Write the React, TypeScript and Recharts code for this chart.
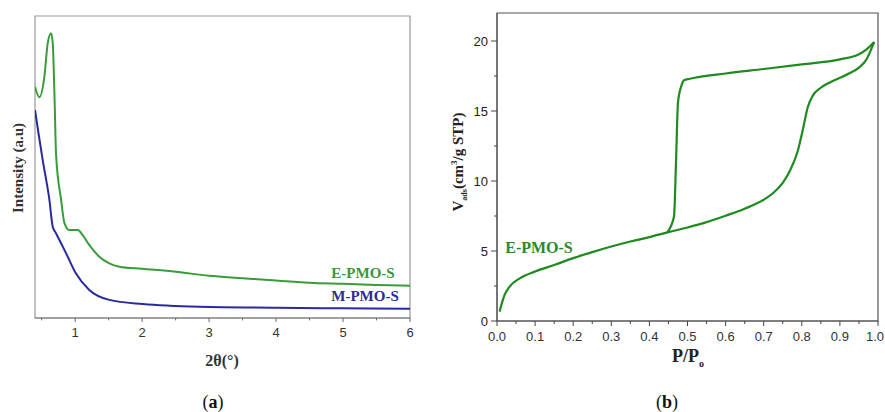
import { LineChart, Line, XAxis, YAxis, ReferenceArea } from 'recharts';

// (a) low-angle XRD, intensity in arbitrary units (0..100 across the frame)
const ePmoTheta = [0.4, 0.466, 0.54, 0.59, 0.64, 0.665, 0.69, 0.715, 0.79, 0.84, 0.914, 1.04, 1.11, 1.21, 1.36, 1.51, 1.66, 2, 2.5, 3, 3.5, 4, 4.5, 5, 5.5, 6];
const ePmoIntensity = [76.6, 73.1, 79.9, 91.0, 94.3, 91.0, 74.4, 54.0, 39.1, 31.4, 29.1, 29.1, 27.5, 24.2, 20.3, 18.1, 17.0, 16.3, 15.3, 14.0, 13.2, 12.4, 11.7, 11.3, 10.9, 10.7];
const mPmoTheta = [0.4, 0.45, 0.515, 0.615, 0.665, 0.715, 0.865, 1.01, 1.21, 1.51, 2.01, 2.86, 4, 5, 6];
const mPmoIntensity = [68.9, 61.5, 52.3, 39.1, 30.2, 28.0, 21.4, 14.8, 9.3, 6.0, 4.6, 3.7, 3.4, 3.2, 3.1];
const thetaTicks = [0.5, 1, 1.5, 2, 2.5, 3, 3.5, 4, 4.5, 5, 5.5, 6];

// (b) N2 isotherm
const adsP = [0.007, 0.014, 0.02, 0.033, 0.06, 0.1, 0.15, 0.2, 0.25, 0.3, 0.35, 0.4, 0.45, 0.5, 0.55, 0.6, 0.65, 0.7, 0.725, 0.75, 0.77, 0.79, 0.803, 0.816, 0.828, 0.85, 0.875, 0.9, 0.925, 0.95, 0.97, 0.982, 0.99];
const adsV = [0.67, 1.38, 1.86, 2.45, 3.05, 3.53, 4.0, 4.49, 4.92, 5.32, 5.68, 5.99, 6.35, 6.68, 7.06, 7.52, 8.02, 8.66, 9.14, 9.86, 10.8, 12.2, 13.7, 15.3, 16.06, 16.66, 17.06, 17.37, 17.7, 18.1, 18.7, 19.4, 19.93];
const desP = [0.447, 0.4646, 0.47, 0.475, 0.484, 0.491, 0.506, 0.6, 0.7, 0.8, 0.9, 0.95, 0.97, 0.99];
const desV = [6.35, 7.47, 11.5, 15.6, 16.8, 17.2, 17.3, 17.68, 18.0, 18.33, 18.69, 19.05, 19.4, 19.93];
const pTicks = [0, 0.05, 0.1, 0.15, 0.2, 0.25, 0.3, 0.35, 0.4, 0.45, 0.5, 0.55, 0.6, 0.65, 0.7, 0.75, 0.8, 0.85, 0.9, 0.95, 1];
const vTicks = [0, 2.5, 5, 7.5, 10, 12.5, 15, 17.5, 20];

const ePmoData = ePmoTheta.map((t, i) => ({ t, v: ePmoIntensity[i] }));
const mPmoData = mPmoTheta.map((t, i) => ({ t, v: mPmoIntensity[i] }));
const adsData = adsP.map((p, i) => ({ p, v: adsV[i] }));
const desData = desP.map((p, i) => ({ p, v: desV[i] }));

const SANS = '"Liberation Sans", Arial, sans-serif';
const SERIF = '"Liberation Serif", "Times New Roman", serif';

const isMult = (v: number, step: number) => Math.abs(v / step - Math.round(v / step)) < 1e-6;

function BottomTick(props: any) {
  const { x, y, payload, size, gap, step, color, fmt, lastShift } = props;
  const major = isMult(payload.value, step);
  const y0 = y - size - gap;
  // the last label of panel (b) sits on the page edge: keep it inside
  const shift = lastShift && payload.value === 1;
  return (
    <g>
      <line x1={x} x2={x} y1={y0} y2={y0 + (major ? size : size * 0.6)} stroke={color} strokeWidth={1} />
      {major && (
        <text
          x={shift ? x + 6 : x}
          y={y}
          dy="0.71em"
          textAnchor={shift ? 'end' : 'middle'}
          fontFamily={SANS}
          fontSize={13}
          fill="#333"
        >
          {fmt(payload.value)}
        </text>
      )}
    </g>
  );
}

function LeftTick(props: any) {
  const { x, y, payload, size, gap, step, color } = props;
  const major = isMult(payload.value, step);
  const x0 = x + size + gap;
  return (
    <g>
      <line x1={x0} x2={x0 - (major ? size : size * 0.5)} y1={y} y2={y} stroke={color} strokeWidth={1} />
      {major && (
        <text x={x} y={y} dy="0.35em" textAnchor="end" fontFamily={SANS} fontSize={13} fill="#222">
          {payload.value}
        </text>
      )}
    </g>
  );
}

export default function App() {
  return (
    <div style={{ position: 'absolute', left: 0, top: 0, width: 885, height: 412, overflow: 'hidden', background: '#fff' }}>
      <div style={{ position: 'absolute', left: 0, top: 0 }}>
        <LineChart width={440} height={412} margin={{ top: 16, right: 30, bottom: 64, left: 35 }}>
          <XAxis
            dataKey="t"
            type="number"
            domain={[0.4, 6]}
            ticks={thetaTicks}
            height={30}
            tickSize={4}
            tickMargin={6}
            tickLine={false}
            axisLine={{ stroke: '#777' }}
            tick={(p: any) => <BottomTick {...p} size={4} gap={6} step={1} color="#666" fmt={(v: number) => String(v)} />}
            interval={0}
            allowDataOverflow
          />
          <YAxis type="number" domain={[0, 100]} hide allowDataOverflow />
          <ReferenceArea x1={0.4} x2={6} y1={0} y2={100} fill="none" stroke="#999" strokeWidth={1.2} />
          <Line data={ePmoData} dataKey="v" type="monotone" stroke="#3a9b3a" strokeWidth={2} dot={false} isAnimationActive={false} />
          <Line data={mPmoData} dataKey="v" type="monotone" stroke="#2a2a9e" strokeWidth={2} dot={false} isAnimationActive={false} />
        </LineChart>
      </div>
      <div style={{ position: 'absolute', left: 440, top: 0 }}>
        <LineChart width={445} height={412} margin={{ top: 13, right: 7, bottom: 61, left: 17 }}>
          <XAxis
            dataKey="p"
            type="number"
            domain={[0, 1]}
            ticks={pTicks}
            height={30}
            tickSize={5}
            tickMargin={6}
            tickLine={false}
            axisLine={{ stroke: '#555' }}
            tick={(p: any) => <BottomTick {...p} size={5} gap={6} step={0.1} color="#444" lastShift fmt={(v: number) => v.toFixed(1)} />}
            interval={0}
          />
          <YAxis
            type="number"
            domain={[0, 22]}
            ticks={vTicks}
            width={40}
            tickSize={6}
            tickMargin={3}
            tickLine={false}
            axisLine={{ stroke: '#555' }}
            tick={(p: any) => <LeftTick {...p} size={6} gap={3} step={5} color="#444" />}
            interval={0}
          />
          <ReferenceArea x1={0} x2={1} y1={0} y2={22} fill="none" stroke="#555" strokeWidth={1.2} />
          <Line data={adsData} dataKey="v" type="monotone" stroke="#1f8a1f" strokeWidth={2.2} dot={false} isAnimationActive={false} />
          <Line data={desData} dataKey="v" type="monotone" stroke="#1f8a1f" strokeWidth={2.2} dot={false} isAnimationActive={false} />
        </LineChart>
      </div>
      <svg width={885} height={412} style={{ position: 'absolute', left: 0, top: 0, pointerEvents: 'none' }}>
        <g fontFamily={SERIF} fontWeight="bold">
          <text x={18} y={168} transform="rotate(-90 18 168)" textAnchor="middle" dominantBaseline="central" fontSize={15} fill="#333">
            Intensity (a.u)
          </text>
          <text x={222} y={360} textAnchor="middle" dominantBaseline="central" fontSize={16} fill="#333">
            2θ(°)
          </text>
          <text x={363} y={273} textAnchor="middle" dominantBaseline="central" fontSize={15} fill="#3a963a">
            E-PMO-S
          </text>
          <text x={365} y={296} textAnchor="middle" dominantBaseline="central" fontSize={15} fill="#2a2a9a">
            M-PMO-S
          </text>
          <text x={539} y={247} textAnchor="middle" dominantBaseline="central" fontSize={16} fill="#2a8a2a">
            E-PMO-S
          </text>
          <text x={688} y={357} textAnchor="middle" fontSize={18} fill="#222" dy="0.3em">
            P/P<tspan fontSize={10} dy={5}>o</tspan>
          </text>
          <text x={458} y={162} transform="rotate(-90 458 162)" textAnchor="middle" fontSize={15} fill="#222" dy="0.3em">
            V<tspan fontSize={8} dy={4}>ads</tspan>
            <tspan dy={-4}>(cm</tspan>
            <tspan fontSize={9} dy={-6}>3</tspan>
            <tspan dy={6}>/g STP)</tspan>
          </text>
        </g>
        <g fontFamily={SERIF} fontSize={18} fill="#111">
          <text x={213} y={402} textAnchor="middle" dominantBaseline="central">
            (<tspan fontWeight="bold">a</tspan>)
          </text>
          <text x={667} y={402} textAnchor="middle" dominantBaseline="central">
            (<tspan fontWeight="bold">b</tspan>)
          </text>
        </g>
      </svg>
    </div>
  );
}
